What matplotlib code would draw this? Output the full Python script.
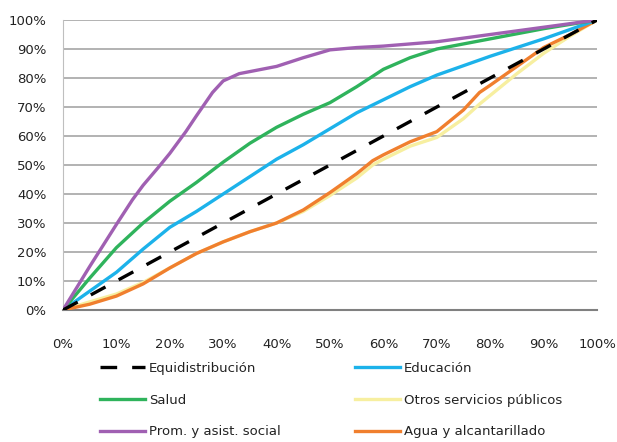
import numpy as np
import matplotlib
matplotlib.use("Agg")
import matplotlib.pyplot as plt
from matplotlib.lines import Line2D

# Curvas de concentración (porcentaje acumulado)
x_equi = [0, 100]
y_equi = [0, 100]

x_educ = [0, 5, 10, 15, 20, 25, 30, 35, 40, 45, 50, 55, 60, 65, 70, 80, 90, 100]
y_educ = [0, 6.5, 13, 21, 28.5, 34, 40, 46, 52, 57, 62.5, 68, 72.5, 77, 81, 87.5, 93.5, 100]

x_salud = [0, 5, 10, 15, 20, 25, 30, 35, 40, 45, 50, 55, 60, 65, 70, 80, 90, 100]
y_salud = [0, 11, 21.5, 30, 37.5, 44, 51, 57.5, 63, 67.5, 71.5, 77, 83, 87, 90, 93.5, 97, 100]

x_otros = [0, 5, 10, 15, 20, 25, 30, 35, 40, 45, 50, 55, 58, 60, 65, 70, 75, 78, 80, 85, 90, 95, 100]
y_otros = [0, 2.8, 5.5, 9.5, 14.5, 19.5, 23.5, 27, 30, 34, 39.5, 45.5, 50, 52, 56.5, 59.5, 66, 71, 74, 81.5, 88.5, 94.5, 100]

x_prom = [0, 5, 10, 13, 15, 18, 20, 23, 25, 28, 30, 33, 40, 45, 50, 55, 60, 70, 80, 90, 100]
y_prom = [0, 15, 29.5, 38, 43, 49.5, 54, 61.5, 67, 75, 79, 81.5, 84, 87, 89.7, 90.5, 91, 92.5, 95, 97.5, 100]

x_agua = [0, 5, 10, 15, 20, 25, 30, 35, 40, 45, 50, 55, 58, 60, 65, 70, 75, 78, 80, 85, 90, 95, 100]
y_agua = [0, 2, 4.8, 9, 14.5, 19.5, 23.5, 27, 30, 34.5, 40.5, 47, 51.5, 53.5, 58, 61.5, 69, 75, 77.5, 84, 90.5, 95, 100]

fig = plt.figure(figsize=(6.17, 4.42), dpi=100)
ax = fig.add_axes([63 / 617, 1 - 310 / 442, 534 / 617, 290 / 442])

lw = 2.4
dash = (5, 4.5)
ax.plot(x_otros, y_otros, color="#F7EFA0", lw=lw, zorder=3)
ax.plot(x_agua, y_agua, color="#F07F2E", lw=lw, zorder=4)
ax.plot(x_educ, y_educ, color="#1CB2EA", lw=lw, zorder=4)
ax.plot(x_salud, y_salud, color="#2FB35C", lw=lw, zorder=4)
ax.plot(x_prom, y_prom, color="#A060B2", lw=lw, zorder=5)
ax.plot(x_equi, y_equi, color="black", lw=lw, dashes=dash, zorder=6)

ax.set_xlim(0, 100)
ax.set_ylim(0, 100)
ticks = np.arange(0, 101, 10)
ax.set_xticks(ticks)
ax.set_yticks(ticks)
ax.set_xticklabels([f"{t}%" for t in ticks])
ax.set_yticklabels([f"{t}%" for t in ticks])
ax.tick_params(length=0, labelsize=9.5, colors="#222222")
ax.tick_params(axis="x", pad=20)
ax.tick_params(axis="y", pad=12)

ax.grid(axis="y", color="#A6A6A6", lw=1.2)
ax.set_axisbelow(True)
for s in ["top", "right"]:
    ax.spines[s].set_visible(False)
ax.spines["left"].set_color("#BFBFBF")
ax.spines["bottom"].set_color("#808080")
ax.spines["bottom"].set_linewidth(1.5)

# Leyenda en dos columnas
h_equi = Line2D([], [], color="black", lw=lw, dashes=dash)
h_salud = Line2D([], [], color="#2FB35C", lw=lw)
h_prom = Line2D([], [], color="#A060B2", lw=lw)
h_educ = Line2D([], [], color="#1CB2EA", lw=lw)
h_otros = Line2D([], [], color="#F7EFA0", lw=lw)
h_agua = Line2D([], [], color="#F07F2E", lw=lw)

kw = dict(frameon=False, fontsize=9.5, handlelength=3.4, handletextpad=0.3,
          labelspacing=1.42, loc="upper left", borderpad=0, borderaxespad=0)
leg1 = fig.legend([h_equi, h_salud, h_prom],
                  ["Equidistribución", "Salud", "Prom. y asist. social"],
                  bbox_to_anchor=(100 / 617, 1 - 362 / 442), **kw)
leg2 = fig.legend([h_educ, h_otros, h_agua],
                  ["Educación", "Otros servicios públicos", "Agua y alcantarillado"],
                  bbox_to_anchor=(355 / 617, 1 - 362 / 442), **kw)
for leg in (leg1, leg2):
    for t in leg.get_texts():
        t.set_color("#222222")

fig.savefig("out.png", dpi=100)
